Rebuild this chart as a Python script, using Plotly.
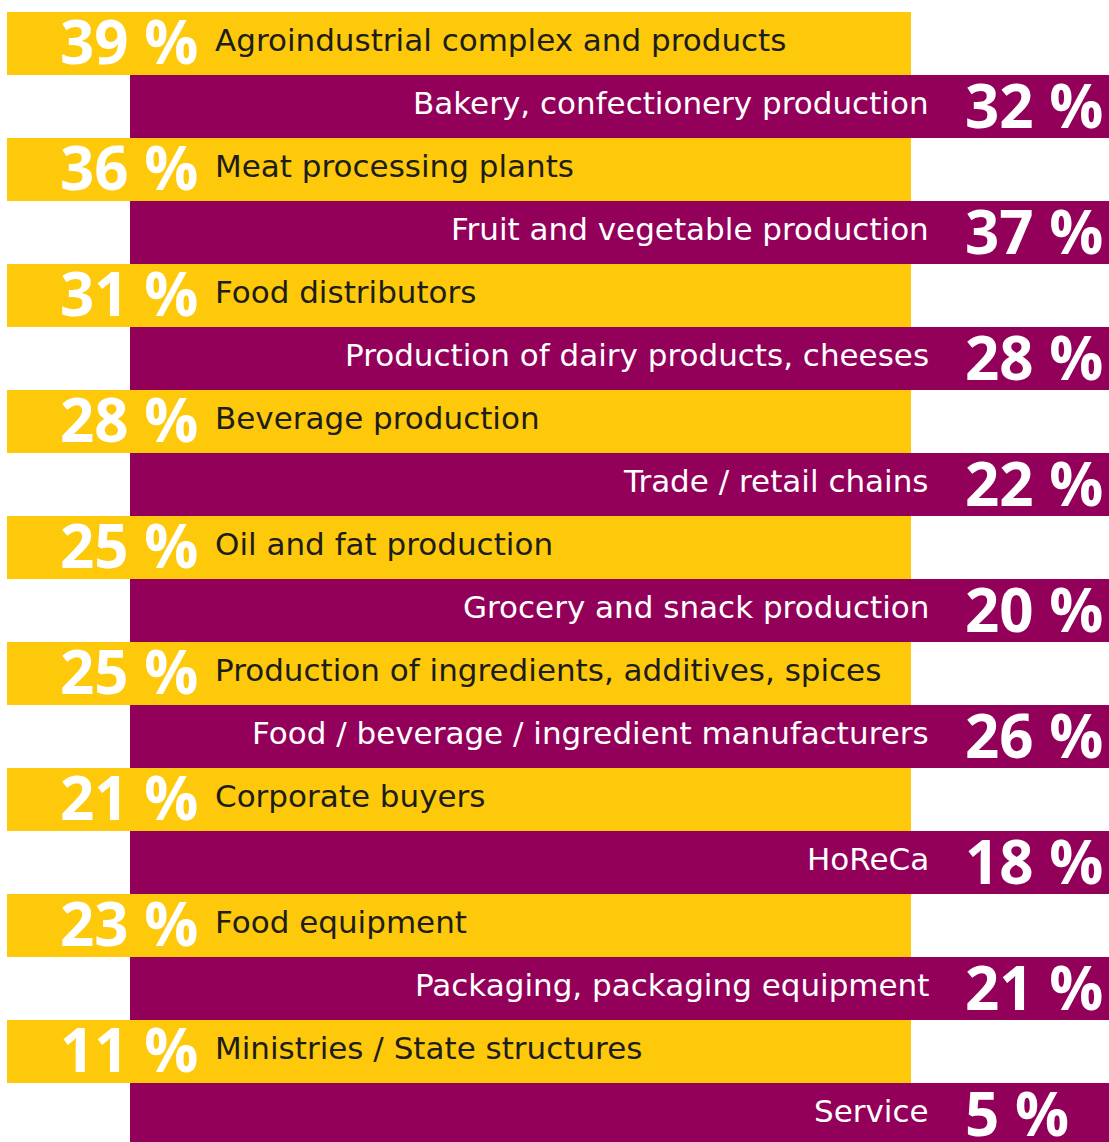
import plotly.graph_objects as go

yellow_labels = [
    "Agroindustrial complex and products",
    "Meat processing plants",
    "Food distributors",
    "Beverage production",
    "Oil and fat production",
    "Production of ingredients, additives, spices",
    "Corporate buyers",
    "Food equipment",
    "Ministries / State structures",
]
yellow_values = [39, 36, 31, 28, 25, 25, 21, 23, 11]

purple_labels = [
    "Bakery, confectionery production",
    "Fruit and vegetable production",
    "Production of dairy products, cheeses",
    "Trade / retail chains",
    "Grocery and snack production",
    "Food / beverage / ingredient manufacturers",
    "HoReCa",
    "Packaging, packaging equipment",
    "Service",
]
purple_values = [32, 37, 28, 22, 20, 26, 18, 21, 5]

YELLOW = "#FDC90A"
PURPLE = "#93005A"
W, H = 1109, 1142
ROW = 63.0
TOP = 12.0

y_rows = [2 * i for i in range(len(yellow_labels))]
p_rows = [2 * i + 1 for i in range(len(purple_labels))]

fig = go.Figure()
fig.add_trace(go.Bar(
    y=p_rows, x=[W - 130] * len(p_rows), base=130, orientation="h",
    width=1.0, marker=dict(color=PURPLE, line=dict(width=0)), hoverinfo="skip",
))
fig.add_trace(go.Bar(
    y=y_rows, x=[904] * len(y_rows), base=7, orientation="h",
    width=1.0, marker=dict(color=YELLOW, line=dict(width=0)), hoverinfo="skip",
))

PCT_FONT = dict(family="Open Sans", size=60, color="white", weight="bold")
LBL_FONT_D = dict(family="DejaVu Sans", size=31, color="#1d1d1b")
LBL_FONT_W = dict(family="DejaVu Sans", size=31, color="white")

ann = []
for r, lab, v in zip(y_rows, yellow_labels, yellow_values):
    ann.append(dict(x=58, y=r, xref="x", yref="y", text=f"{v} %", showarrow=False,
                    xanchor="left", yanchor="middle", valign="middle", height=56,
                    font=PCT_FONT, yshift=3))
    ann.append(dict(x=213, y=r, xref="x", yref="y", text=lab, showarrow=False,
                    xanchor="left", yanchor="middle", font=LBL_FONT_D, yshift=4))
for r, lab, v in zip(p_rows, purple_labels, purple_values):
    ann.append(dict(x=963, y=r, xref="x", yref="y", text=f"{v} %", showarrow=False,
                    xanchor="left", yanchor="middle", valign="middle", height=56,
                    font=PCT_FONT, yshift=2))
    ann.append(dict(x=931, y=r, xref="x", yref="y", text=lab, showarrow=False,
                    xanchor="right", yanchor="middle", font=LBL_FONT_W, yshift=4))

y_top = -0.5 - TOP / ROW
y_bot = y_top + H / ROW

fig.update_layout(
    width=W, height=H, margin=dict(l=0, r=0, t=0, b=0),
    paper_bgcolor="white", plot_bgcolor="white",
    barmode="overlay", showlegend=False, annotations=ann,
    xaxis=dict(range=[0, W], visible=False, fixedrange=True),
    yaxis=dict(range=[y_bot, y_top], visible=False, fixedrange=True),
)
fig.write_html(
    "out.html",
    config={"displayModeBar": False},
    post_script="document.body.style.margin='0';document.body.style.padding='0';document.body.style.overflow='hidden';",
)
